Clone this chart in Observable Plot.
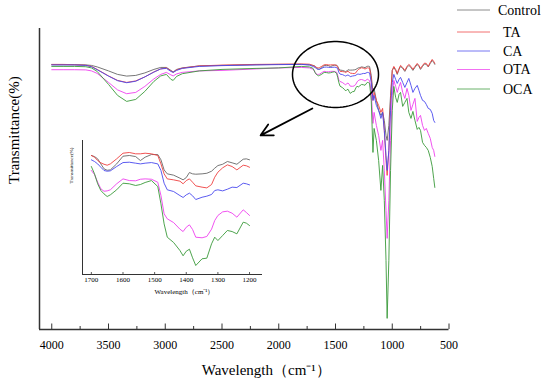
<!DOCTYPE html>
<html><head><meta charset="utf-8">
<script src="https://cdn.jsdelivr.net/npm/d3@7"></script>
<script src="https://cdn.jsdelivr.net/npm/@observablehq/plot@0.6"></script>
<style>
body{margin:0;background:#fff;}
#wrap{position:relative;width:550px;height:382px;font-family:"Liberation Serif","Times New Roman",serif;overflow:hidden;}
#wrap svg{position:absolute;}
#wrap svg text{font-family:"Liberation Serif","Times New Roman",serif !important;}
</style></head><body><div id="wrap"></div>
<script>
const wavenumber = [
4000,3900,3800,3700,3650,3600,3500,3420,3340,3260,3180,3100,3040,2990,2950,2930,2900,2850,2700,2500,2200,2000,1800,1730,
1700,1690,1680,1670,1660,1650,1640,1620,1600,1580,1560,1545,1530,1510,1490,1480,1470,1460,1440,1420,1410,1400,1390,1380,1370,1350,1335,1320,1310,1300,1285,1270,1255,1240,1220,1210,1200,
1185,1170,1160,1140,1120,1100,1085,1070,1055,1045,1030,1015,1000,986,970,956,940,927,908,889,870,854,835,818,800,780,765,751,733,716,700,683,665,648,635,625];

const control = [
88.14,88.14,88.14,88.07,87.91,87.42,86.11,84.96,84.41,84.63,85.45,86.60,87.25,87.25,86.27,85.78,86.60,87.09,87.75,87.91,88.14,88.24,88.24,88.07,
87.92,87.83,87.64,87.22,86.81,86.69,86.72,87.22,87.86,87.92,87.83,87.50,87.78,88.00,88.00,87.56,86.72,86.39,86.28,86.03,85.89,86.08,86.50,86.39,86.36,86.39,86.44,86.61,86.86,87.08,87.19,87.42,87.31,87.19,87.61,87.64,87.56,
84.63,79.07,80.38,76.45,73.17,71.53,72.52,69.89,64.98,63.34,68.26,78.08,86.27,87.25,86.27,84.96,86.60,87.58,86.93,85.94,87.25,87.91,87.25,86.27,87.25,88.24,87.58,86.60,87.58,88.40,88.24,87.42,88.56,89.55,88.89,88.24];

const ta = [
88.24,88.24,88.14,87.97,87.58,86.60,84.47,83.00,82.34,82.83,84.14,85.78,86.76,87.09,86.11,85.62,86.44,87.02,87.75,88.01,88.24,88.30,88.40,88.30,
87.92,87.78,87.50,87.31,87.19,87.11,87.22,87.64,88.11,88.17,88.06,88.06,88.11,88.06,87.92,87.22,86.39,85.97,85.89,85.78,85.56,85.83,85.97,85.69,85.39,85.28,85.22,85.50,86.11,86.53,86.89,87.14,87.00,86.72,87.11,87.06,86.94,
83.65,76.45,79.07,76.45,74.81,72.52,73.83,66.62,56.79,51.88,60.07,76.45,86.27,87.58,86.60,85.29,86.93,87.91,87.25,86.27,87.58,88.24,87.58,86.60,87.58,88.56,87.91,86.93,87.91,88.66,88.56,87.58,88.89,89.87,89.22,88.56];

const ca = [
88.07,88.07,88.07,87.91,87.48,86.50,84.41,82.90,82.24,82.73,84.14,85.71,86.76,86.93,85.94,85.62,86.27,86.93,87.58,87.84,88.07,88.17,88.24,88.07,
87.56,87.42,87.22,86.94,86.67,86.61,86.64,87.00,87.33,87.36,87.28,87.22,87.28,87.33,87.22,86.67,85.61,85.06,84.92,84.58,84.42,84.64,84.78,84.56,84.25,84.44,84.53,84.67,85.00,85.06,84.97,85.11,85.28,85.25,85.61,85.56,85.47,
82.34,76.45,78.08,74.81,73.17,70.55,72.52,66.62,58.43,53.52,60.07,73.17,82.34,84.96,83.32,82.01,83.32,83.98,82.34,80.70,82.34,83.65,81.36,79.07,80.38,81.36,79.72,78.08,76.45,76.12,75.13,73.83,73.50,72.19,69.89,69.24];

const ota = [
86.50,86.50,86.50,86.44,86.11,85.29,82.34,79.88,78.64,79.07,81.03,83.49,84.96,85.62,84.80,84.47,85.13,85.62,86.11,86.27,86.76,87.09,87.25,87.09,
86.67,86.33,85.69,85.14,84.94,84.97,85.06,85.56,85.97,85.83,85.81,85.94,85.97,85.94,85.69,84.58,83.06,82.64,82.33,81.78,81.58,81.94,82.14,81.75,81.11,81.06,81.17,81.78,82.50,82.92,83.22,83.28,83.11,82.78,83.39,83.17,82.92,
79.07,68.91,72.52,68.26,64.98,60.07,63.34,53.52,40.41,31.24,43.69,63.34,78.08,83.00,81.03,79.07,81.03,82.34,79.07,77.10,80.38,78.08,73.17,75.13,77.10,69.57,70.88,71.53,68.26,66.62,67.27,65.64,64.00,61.05,60.07,58.10];

const oca = [
87.58,87.58,87.58,87.48,87.09,85.94,81.69,78.08,76.12,76.77,79.39,82.67,84.47,84.96,83.32,83.00,84.31,85.19,86.11,86.60,86.93,87.09,87.58,87.42,
87.00,86.39,85.56,85.00,84.72,84.50,84.64,85.06,85.61,85.56,85.42,85.50,85.67,85.83,85.33,83.89,82.22,81.11,80.67,80.00,79.56,79.94,80.11,79.39,78.75,79.31,79.36,80.56,81.11,80.83,81.25,81.67,81.58,81.39,82.36,82.28,82.08,
76.45,59.41,67.27,63.34,56.79,46.97,55.15,43.69,24.04,5.04,24.04,53.52,73.17,81.03,77.43,75.79,78.41,79.07,74.48,75.79,77.10,72.52,70.55,72.84,69.89,66.95,67.60,66.62,62.69,61.71,61.05,60.07,57.77,54.83,50.90,47.95];

const seriesNames = ["Control", "TA", "CA", "OTA", "OCA"];
const xTicks = [4000, 3500, 3000, 2500, 2000, 1500, 1000, 500];
const xMinorTicks = [3750, 3250, 2750, 2250, 1750, 1250, 750];
const insetTicks = [1700, 1600, 1500, 1400, 1300, 1200];
const xTitle = "Wavelength（cm⁻¹）";
const yTitle = "Transmittance(%)";

const seriesColors = ["#666666", "#ee4040", "#4848ee", "#ee40ee", "#3a9a3a"];
const seriesValues = [control, ta, ca, ota, oca];
const rows = seriesNames.flatMap((name, i) => wavenumber.map((w, j) => ({series: name, w, t: seriesValues[i][j]})));
const insetRows = rows.filter(d => d.w >= 1200 && d.w <= 1700);

const font = "Liberation Serif, Times New Roman, serif";
const axisColor = "#333";
const yMin = 1.4, xLeft = 4108;

// annotation: ellipse around the 1900-1120 region and arrow to the inset
const ellipse = d3.range(0, 361, 4).map(a => ({w: 1500 + 379 * Math.cos(a * Math.PI / 180), t: 84.93 + 10.81 * Math.sin(a * Math.PI / 180)}));
const arrowLine = [{w1: 1704, t1: 73.8, w2: 2160, t2: 65.0}];

const colorScale = {domain: seriesNames, range: seriesColors};

const main = Plot.plot({
  width: 550, height: 382,
  marginLeft: 39, marginRight: 101.5, marginTop: 28, marginBottom: 53,
  style: {fontFamily: font, background: "transparent", color: "#000"},
  x: {domain: [xLeft, 500], axis: null},
  y: {domain: [yMin, 100], axis: null},
  color: colorScale,
  marks: [
    Plot.axisX(xTicks, {tickSize: 0, tickPadding: 11, fontSize: 12, fontFamily: font, label: null, tickFormat: "d"}),
    Plot.ruleX(xTicks, {insetTop: 301 - 5.5, stroke: axisColor, strokeWidth: 1}),
    Plot.ruleX(xMinorTicks, {insetTop: 301 - 3, stroke: axisColor, strokeWidth: 1}),
    Plot.ruleX([xLeft], {stroke: axisColor, strokeWidth: 1.5}),
    Plot.ruleY([yMin], {stroke: axisColor, strokeWidth: 1.5}),
    Plot.line(rows, {x: "w", y: "t", z: "series", stroke: "series", strokeWidth: 0.9}),
    Plot.line(ellipse, {x: "w", y: "t", stroke: "#000", strokeWidth: 1.5}),
    Plot.arrow(arrowLine, {x1: "w1", y1: "t1", x2: "w2", y2: "t2", stroke: "#000", strokeWidth: 1.8, headLength: 11, headAngle: 55}),
    Plot.text([xTitle], {frameAnchor: "bottom", dx: 22, dy: 45, fontSize: 15, fontFamily: font}),
    Plot.text([yTitle], {frameAnchor: "left", rotate: -90, dx: -25, dy: 5, fontSize: 15, fontFamily: font})
  ]
});
main.style.left = "0px"; main.style.top = "0px";

const inset = Plot.plot({
  width: 210, height: 170,
  marginLeft: 22, marginRight: 8, marginTop: 10, marginBottom: 26,
  style: {fontFamily: font, background: "transparent", color: "#000"},
  x: {domain: [1728, 1159], axis: null},
  y: {domain: [78.0, 89.17], axis: null},
  color: colorScale,
  marks: [
    Plot.axisX(insetTicks, {tickSize: 0, tickPadding: 3, fontSize: 7, fontFamily: font, label: null, tickFormat: "d"}),
    Plot.ruleX(insetTicks, {insetTop: 134 - 2, stroke: axisColor, strokeWidth: 0.8}),
    Plot.ruleX([1728], {stroke: axisColor, strokeWidth: 1}),
    Plot.ruleY([78.0], {stroke: axisColor, strokeWidth: 1}),
    Plot.line(insetRows, {x: "w", y: "t", z: "series", stroke: "series", strokeWidth: 0.9}),
    Plot.text([xTitle], {frameAnchor: "bottom", dx: 12, dy: 19, fontSize: 7, fontFamily: font}),
    Plot.text([yTitle], {frameAnchor: "left", rotate: -90, dx: -11, dy: -24, fontSize: 5, fontFamily: font})
  ]
});
inset.style.left = "60px"; inset.style.top = "130px";

const wrap = document.getElementById("wrap");
wrap.appendChild(main);
wrap.appendChild(inset);

// legend (drawn as a small svg in the top-right corner)
const legendY = [10, 32, 51, 69.5, 89];
const leg = d3.create("svg").attr("width", 110).attr("height", 100)
  .style("left", "440px").style("top", "0px");
seriesNames.forEach((name, i) => {
  leg.append("line").attr("x1", 17).attr("x2", 50).attr("y1", legendY[i]).attr("y2", legendY[i])
    .attr("stroke", seriesColors[i]).attr("stroke-width", 1).attr("stroke-opacity", 0.75);
  leg.append("text").attr("x", i === 0 ? 58 : 63).attr("y", legendY[i]).attr("dy", "0.33em")
    .attr("font-size", 14).attr("fill", "#000").text(name);
});
wrap.appendChild(leg.node());
</script>
</body></html>
